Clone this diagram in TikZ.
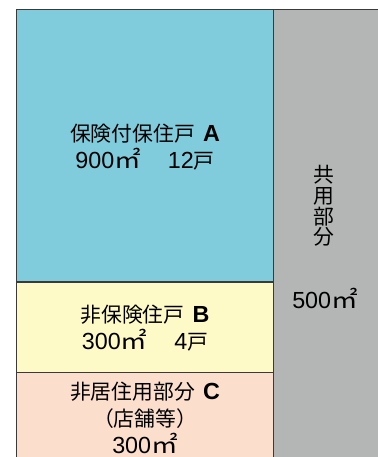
\documentclass[tikz,border=0pt]{standalone}
\usepackage{graphicx}
\usepackage{fontspec}
\setmainfont{Noto Sans CJK JP}
\newfontfamily\latinfont[Scale=1.12]{Liberation Sans}
\newcommand\lat[1]{{\latinfont #1}}
\newcommand\sqm{\scalebox{1.28}[1.12]{㎡}}
\definecolor{insuredA}{RGB}{128,204,220}
\definecolor{uninsuredB}{RGB}{254,250,200}
\definecolor{shopC}{RGB}{252,222,204}
\definecolor{commonD}{RGB}{180,181,181}
\definecolor{edge}{RGB}{58,58,58}
\tikzset{every picture/.style={line width=0.75pt}}
\tikzset{
  arealabel/.style={inner sep=0.75pt, align=center, font=\fontsize{15.6}{20.5}\selectfont},
  stacklabel/.style={inner sep=0.75pt, align=center, font=\fontsize{15.6}{15.4}\selectfont},
  partline/.style={draw=edge, line width=1pt}
}

\begin{document}
\begin{tikzpicture}[x=0.75pt,y=0.75pt,yscale=-1,xscale=1]
\useasboundingbox (0,0) rectangle (378,457);

%Shape: Rectangle A
\fill[insuredA] (16.5,9.5) rectangle (273.5,282);
%Shape: Rectangle B
\fill[uninsuredB] (16.5,282) rectangle (273.5,372.5);
%Shape: Rectangle C
\fill[shopC] (16.5,372.5) rectangle (273.5,457);
%Shape: Rectangle common
\fill[commonD] (273.5,9.5) rectangle (378,457);

%Straight Lines
\draw[partline] (16.5,457) -- (16.5,9.5) -- (378,9.5);
\draw[partline] (273.5,9.5) -- (273.5,457);
\draw[partline] (16.5,282) -- (273.5,282);
\draw[partline] (16.5,372.5) -- (273.5,372.5);

% Text Node
\node[arealabel] (labelA) at (145,147) {保険付保住戸\hspace{0.4em}\lat{\textbf{A}}\\\lat{900}\sqm\hspace{1.3em}\lat{12}戸};
% Text Node
\node[arealabel] (labelB) at (145,328) {非保険住戸\hspace{0.4em}\lat{\textbf{B}}\\\lat{300}\sqm\hspace{1.3em}\lat{4}戸};
% Text Node
\node[arealabel] (labelC) at (145,418) {非居住用部分\hspace{0.4em}\lat{\textbf{C}}\\（店舗等）\\\lat{300}\sqm};
% Text Node
\node[stacklabel] (labelD) at (324,206) {共\\用\\部\\分};
% Text Node
\node[arealabel] (areaD) at (325,298) {\lat{500}\sqm};

\end{tikzpicture}
\end{document}
